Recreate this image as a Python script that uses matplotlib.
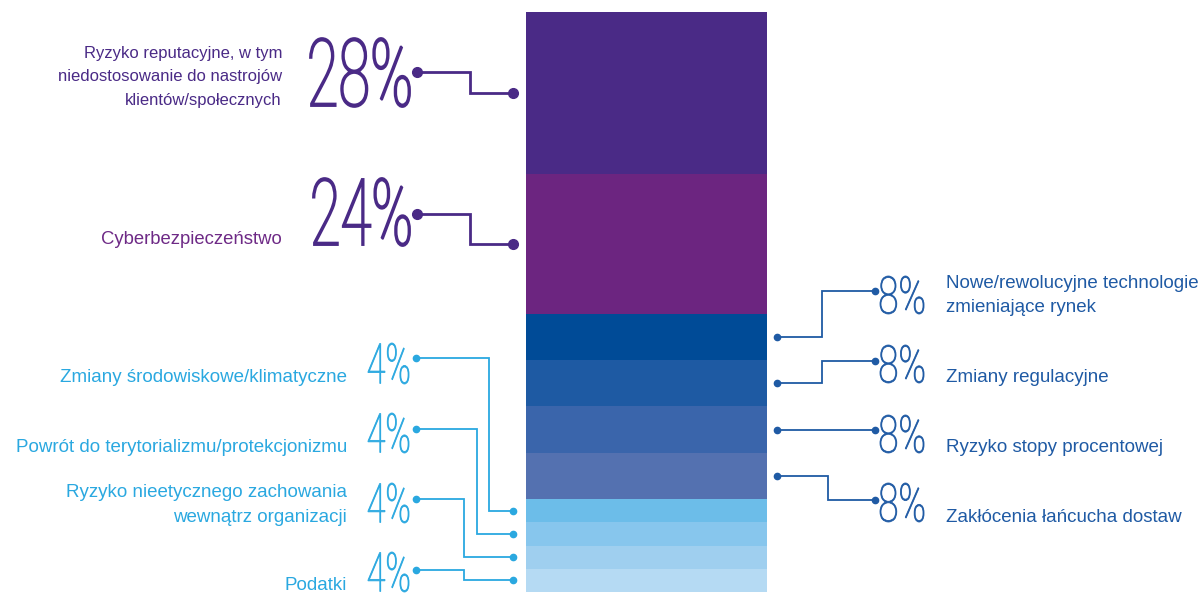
import numpy as np
import matplotlib.pyplot as plt
from matplotlib.textpath import TextPath
from matplotlib.patches import PathPatch
from matplotlib.font_manager import FontProperties
from matplotlib.transforms import Affine2D

# Risk categories (top to bottom of the stacked bar)
categories = [
    'Ryzyko reputacyjne, w tym\nniedostosowanie do nastrojów\nklientów/społecznych',
    'Cyberbezpieczeństwo',
    'Nowe/rewolucyjne technologie\nzmieniające rynek',
    'Zmiany regulacyjne',
    'Ryzyko stopy procentowej',
    'Zakłócenia łańcucha dostaw',
    'Zmiany środowiskowe/klimatyczne',
    'Powrót do terytorializmu/protekcjonizmu',
    'Ryzyko nieetycznego zachowania\nwewnątrz organizacji',
    'Podatki',
]
values = [28, 24, 8, 8, 8, 8, 4, 4, 4, 4]
value_labels = ['28%', '24%', '8%', '8%', '8%', '8%', '4%', '4%', '4%', '4%']

bar_colors = ['#4a2a86', '#6c2580', '#004b97', '#1e5aa3', '#3a65ab', '#5471b0',
              '#6cbde9', '#87c6ed', '#9fcfef', '#b5daf3']
purple_txt = '#4a2a86'
purple2_txt = '#6e2a86'
dark_blue = '#1f5aa4'
light_blue = '#2aa8e0'

fig = plt.figure(figsize=(12.03, 5.93), dpi=100)
ax = fig.add_axes([0, 0, 1, 1])
ax.set_xlim(0, 1203)
ax.set_ylim(593, 0)
ax.axis('off')

# stacked bar, drawn in pixel space: 100% spans from y=12 to y=592
bar_top, bar_h = 12, 580
bar_x0, bar_w = 526, 241
scale = bar_h / sum(values)
bottoms = bar_top + np.concatenate([[0], np.cumsum(values)[:-1]]) * scale
ax.bar(bar_x0 + bar_w / 2, np.array(values) * scale, bottom=bottoms, width=bar_w,
       color=bar_colors, linewidth=0)
centers = bottoms + np.array(values) * scale / 2

num_font = FontProperties(family='Roboto', weight=100)


def big_number(txt, x0, x1, y0, y1, color, lw=0.6):
    # condensed thin numerals, stretched into a box
    tp = TextPath((0, 0), txt, size=100, prop=num_font)
    ext = tp.get_extents()
    sx = (x1 - x0) / ext.width
    sy = (y1 - y0) / ext.height
    tr = Affine2D().translate(-ext.x0, -ext.y0).scale(sx, -sy).translate(x0, y1) + ax.transData
    ax.add_patch(PathPatch(tp, transform=tr, facecolor=color, edgecolor=color, lw=lw))


def connector(pts, color, lw, ms):
    xs, ys = zip(*pts)
    ax.plot(xs, ys, color=color, lw=lw, solid_joinstyle='miter')
    ax.plot([xs[0], xs[-1]], [ys[0], ys[-1]], 'o', color=color, ms=ms)


fam = 'Liberation Sans'

# big purple ones
big_number(value_labels[0], 310, 410, 38, 107, purple_txt, 1.3)
big_number(value_labels[1], 313, 410, 178, 246, purple_txt, 1.3)
connector([(417, 72), (470, 72), (470, centers[0]), (513, centers[0])], purple_txt, 2, 7)
connector([(417, 214), (470, 214), (470, centers[1]), (513, centers[1])], purple_txt, 2, 7)
ax.text(282, 77, categories[0], ha='right', va='center', color=purple_txt,
        family=fam, fontsize=12, linespacing=1.73)
ax.text(282, 240, categories[1], ha='right', va='center', color=purple2_txt,
        family=fam, fontsize=13.3)

# right side 8% items
right_num_y = [(276, 314), (345, 383), (415, 453), (483, 522)]
right_dot_y = [291, 361, None, 500]
right_elbow_x = [822, 822, None, 828]
right_label_y = [295.5, 378, 447, 517]
for k in range(4):
    i = 2 + k
    y0, y1 = right_num_y[k]
    big_number(value_labels[i], 880, 924, y0, y1, dark_blue, 0.6)
    yb = centers[i]
    if right_elbow_x[k] is None:
        pts = [(777, yb), (875, yb)]
    else:
        ex = right_elbow_x[k]
        pts = [(777, yb), (ex, yb), (ex, right_dot_y[k]), (875, right_dot_y[k])]
    connector(pts, dark_blue, 1.3, 4.5)
    ax.text(946, right_label_y[k], categories[i], ha='left', va='center', color=dark_blue,
            family=fam, fontsize=13.5, linespacing=1.47)

# left side 4% items
left_num_y = [(343, 384), (413, 453), (483, 523), (552, 592)]
left_dot_y = [358, 429, 499, 570]
left_elbow_x = [489, 477, 464, 464]
left_label_y = [378, 447, 505, 586]
for k in range(4):
    i = 6 + k
    y0, y1 = left_num_y[k]
    big_number(value_labels[i], 368, 409, y0, y1, light_blue, 0.6)
    yb = centers[i]
    ex = left_elbow_x[k]
    connector([(416, left_dot_y[k]), (ex, left_dot_y[k]), (ex, yb), (513, yb)],
              light_blue, 1.3, 4.5)
    ax.text(347, left_label_y[k], categories[i], ha='right', va='center', color=light_blue,
            family=fam, fontsize=13.5, linespacing=1.55)

fig.savefig('out.png', dpi=100)
